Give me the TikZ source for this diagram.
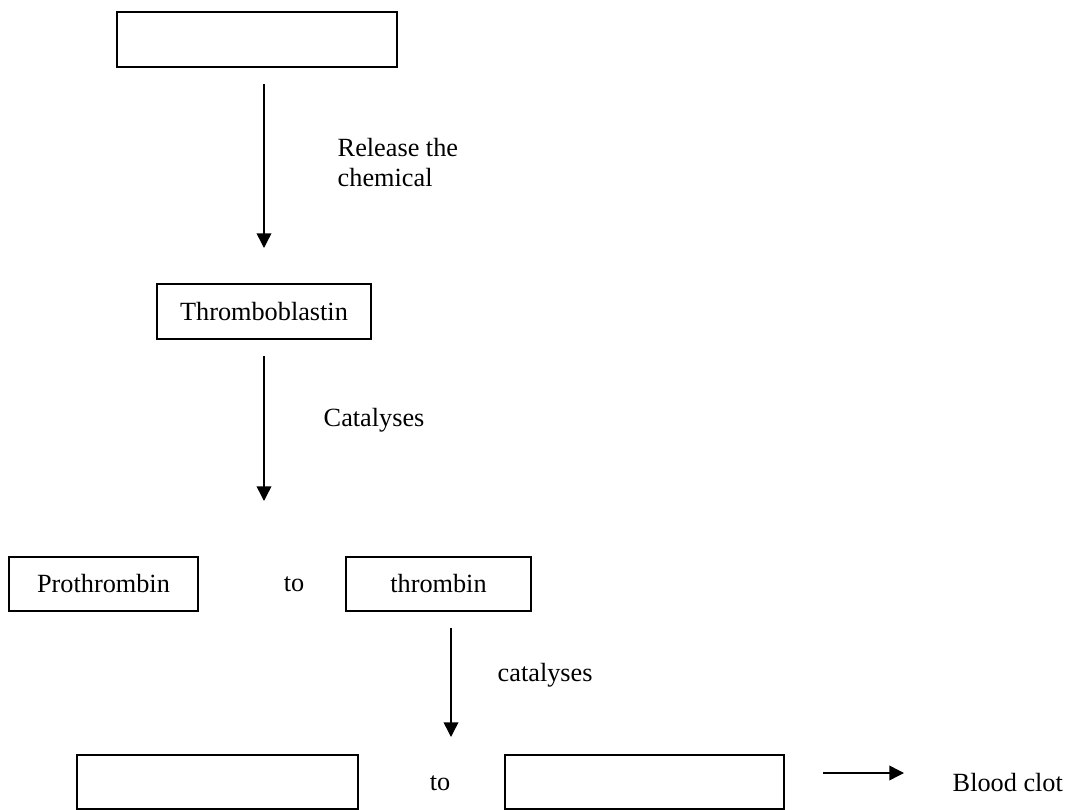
\documentclass[tikz,border=0pt]{standalone}
\usepackage{fontspec}
\setmainfont{Liberation Serif}
\usetikzlibrary{arrows.meta}

\tikzset{every picture/.style={line width=1.1pt}}
\tikzset{
  box/.style={draw, rectangle, inner sep=0pt, minimum height=41.25pt},
  label/.style={font=\fontsize{19.7pt}{22.5pt}\selectfont, inner sep=0pt},
  flow/.style={-{Triangle[length=11pt,width=11pt]}}
}

\begin{document}
\begin{tikzpicture}[x=0.75pt,y=0.75pt,yscale=-1,xscale=1]
	\clip (0,0) rectangle (1072,810); %set diagram to 1072 x 810

	%Shape: Rectangle [id:top]
	\node [box, minimum width=210pt] (cell) at (257,39.5) {};
	%Shape: Rectangle [id:thromboblastin]
	\node [box, minimum width=160.5pt] (thromboblastin) at (264,311.5) {\fontsize{19.7pt}{22.5pt}\selectfont Thromboblastin};
	%Shape: Rectangle [id:prothrombin]
	\node [box, minimum width=141.75pt, minimum height=40.5pt] (prothrombin) at (103.5,584) {\fontsize{19.7pt}{22.5pt}\selectfont Prothrombin};
	%Shape: Rectangle [id:thrombin]
	\node [box, minimum width=138.75pt, minimum height=40.5pt] (thrombin) at (438.5,584) {\fontsize{19.7pt}{22.5pt}\selectfont thrombin};
	%Shape: Rectangle [id:fibrinogen]
	\node [box, line width=0.9pt, minimum width=210.75pt, minimum height=40.5pt] (fibrinogen) at (217.5,782) {};
	%Shape: Rectangle [id:fibrin]
	\node [box, line width=0.9pt, minimum width=209.25pt, minimum height=40.5pt] (fibrin) at (644.5,782) {};

	%Straight Lines [id:release]
	\coordinate (r1) at (264,84);
	\coordinate (r2) at (264,248);
	\draw [flow] (r1) -- (r2);
	%Straight Lines [id:catalyse1]
	\coordinate (c1) at (264,356);
	\coordinate (c2) at (264,501);
	\draw [flow] (c1) -- (c2);
	%Straight Lines [id:catalyse2]
	\coordinate (d1) at (451,628);
	\coordinate (d2) at (451,737);
	\draw [flow] (d1) -- (d2);
	%Straight Lines [id:clot]
	\coordinate (k1) at (823,773);
	\coordinate (k2) at (904,773);
	\draw [flow] (k1) -- (k2);

	% Text Node
	\node [label, anchor=west, align=left] (releasetxt) at (337,162.5) {Release the\\chemical};
	% Text Node
	\node [label, anchor=west] (catalysestxt) at (323,420) {Catalyses};
	% Text Node
	\node [label] (to1) at (294,584) {to};
	% Text Node
	\node [label, anchor=west] (catalysestxt2) at (497,675) {catalyses};
	% Text Node
	\node [label] (to2) at (440,783) {to};
	% Text Node
	\node [label, anchor=west] (clottxt) at (952,783) {Blood clot};

\end{tikzpicture}
\end{document}
